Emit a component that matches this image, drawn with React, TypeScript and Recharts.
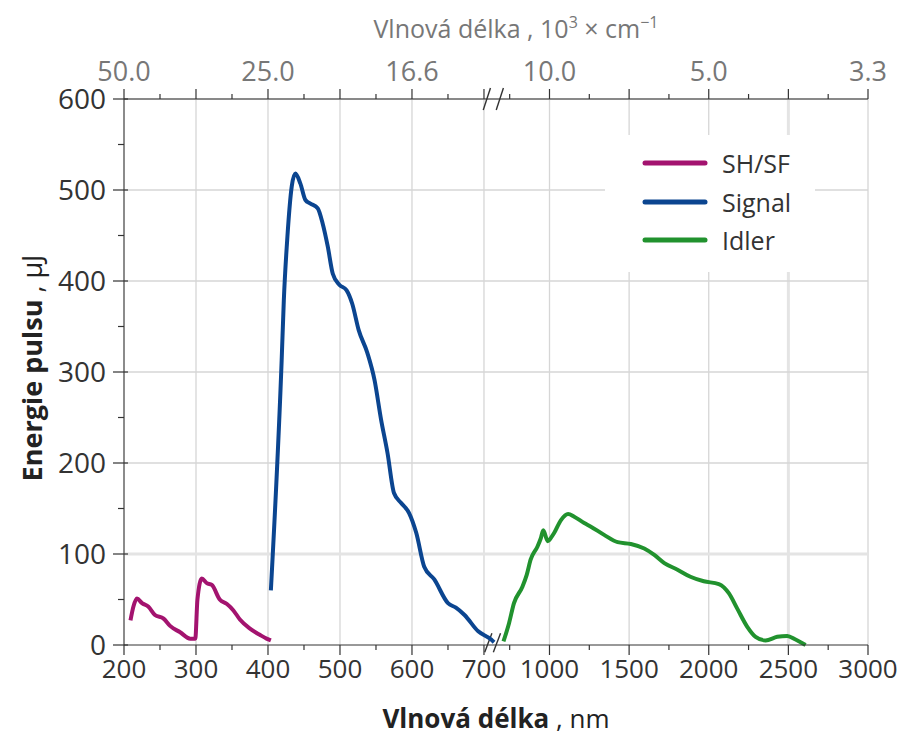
import { LineChart, Line, XAxis, YAxis, ReferenceLine, Legend } from "recharts";

// SH/SF branch (left part of the axis)
const shWavelength = [209, 213, 218, 225, 234, 243, 255, 264, 278, 292, 299, 302, 308, 315, 322, 333, 343, 352, 361, 375, 389, 398, 404];
const shEnergy = [27, 42, 51, 46, 42, 33, 29, 21, 14, 7, 7, 50, 73, 68, 66, 50, 45, 38, 28, 18, 11, 7, 5];

// Signal (left part of the axis)
const signalWavelength = [404, 419, 422, 427, 433, 438, 445, 452, 459, 469, 476, 483, 490, 499, 509, 517, 526, 538, 548, 557, 566, 575, 585, 596, 606, 617, 631, 650, 661, 673, 692, 710, 714];
const signalEnergy = [60, 313, 379, 449, 504, 518, 507, 489, 485, 480, 463, 438, 408, 396, 390, 375, 346, 321, 291, 248, 211, 167, 156, 145, 123, 86, 72, 46, 41, 33, 15, 6, 3];

// Idler (right, compressed part of the axis)
const idlerWavelength = [711, 746, 777, 830, 857, 882, 924, 945, 961, 989, 1010, 1029, 1071, 1117, 1155, 1218, 1260, 1343, 1428, 1511, 1595, 1658, 1721, 1801, 1885, 1969, 2063, 2126, 2179, 2242, 2294, 2357, 2430, 2493, 2545, 2608];
const idlerEnergy = [4, 24, 46, 64, 77, 94, 108, 117, 126, 114, 118, 123, 137, 144, 141, 134, 130, 121, 113, 111, 106, 99, 90, 83, 75, 70, 67, 57, 40, 20, 9, 5, 9, 10, 6, 0];

const seriesNames = ["SH/SF", "Signal", "Idler"];

const leftMajorNm = [200, 300, 400, 500, 600, 700];
const leftMinorNm = [250, 350, 450, 550, 650];
const rightMajorNm = [1000, 1500, 2000, 2500, 3000];
const rightMinorNm = [750, 1250, 1750, 2250, 2750];
const topLabelNm = [200, 400, 600, 1000, 2000, 3000];
const energyMajor = [0, 100, 200, 300, 400, 500, 600];
const energyMinor = [50, 150, 250, 350, 450, 550];

// broken axis: 200-715 nm linear, then compressed from 1000 nm on
const leftPos = (nm: number) => nm;
const rightPos = (nm: number) => 791 + (nm - 1000) * 0.2212;

const shData = shWavelength.map((nm, i) => ({ pos: leftPos(nm), energy: shEnergy[i] }));
const signalData = signalWavelength.map((nm, i) => ({ pos: leftPos(nm), energy: signalEnergy[i] }));
const idlerData = idlerWavelength.map((nm, i) => ({ pos: rightPos(nm), energy: idlerEnergy[i] }));

const bottomLabels = new Map<number, string>();
leftMajorNm.forEach((nm) => bottomLabels.set(leftPos(nm), String(nm)));
rightMajorNm.forEach((nm) => bottomLabels.set(rightPos(nm), String(nm)));

const topLabels = new Map<number, string>();
topLabelNm.forEach((nm) => {
  const pos = nm <= 700 ? leftPos(nm) : rightPos(nm);
  topLabels.set(pos, (Math.floor((1e4 / nm) * 10) / 10).toFixed(1));
});

const majorPos = [...leftMajorNm.map(leftPos), ...rightMajorNm.map(rightPos)];
const xTicks = [
  ...leftMajorNm.map(leftPos),
  ...leftMinorNm.map(leftPos),
  ...rightMinorNm.map(rightPos),
  ...rightMajorNm.map(rightPos),
].sort((a, b) => a - b);
const yTicks = [...energyMajor, ...energyMinor].sort((a, b) => a - b);
const majorSet = new Set(majorPos);

const AXIS = "#333";
const FONT = "'Open Sans', 'Noto Sans', sans-serif";

function BottomTick({ x, y, payload }: any) {
  const major = majorSet.has(payload.value);
  return (
    <g>
      <line x1={x} x2={x} y1={y} y2={y + (major ? 10 : 5)} stroke={AXIS} strokeWidth={1.2} />
      {major && (
        <text x={x} y={y + 33} textAnchor="middle" fill="#333" fontSize={26} fontFamily={FONT}>
          {bottomLabels.get(payload.value)}
        </text>
      )}
    </g>
  );
}

function TopTick({ x, y, payload }: any) {
  const major = majorSet.has(payload.value);
  const label = topLabels.get(payload.value);
  return (
    <g>
      <line x1={x} x2={x} y1={y} y2={y - (major ? 10 : 5)} stroke={AXIS} strokeWidth={1.2} />
      {label && (
        <text x={x} y={y - 18} textAnchor="middle" fill="#777" fontSize={27} fontFamily={FONT}>
          {label}
        </text>
      )}
    </g>
  );
}

function LeftTick({ x, y, payload }: any) {
  const major = payload.value % 100 === 0;
  return (
    <g>
      <line x1={major ? x - 11 : x - 6} x2={major ? x + 4 : x} y1={y} y2={y} stroke={AXIS} strokeWidth={1.2} />
      {major && (
        <text x={x - 18} y={y} dy="0.36em" textAnchor="end" fill="#333" fontSize={28} fontFamily={FONT}>
          {payload.value}
        </text>
      )}
    </g>
  );
}

function BottomTitle({ viewBox }: any) {
  return (
    <text x={viewBox.x + viewBox.width / 2} y={viewBox.y + 83} textAnchor="middle" fill="#222" fontSize={26} fontFamily={FONT}>
      <tspan fontWeight="bold">Vlnová délka</tspan>
      <tspan> , nm</tspan>
    </text>
  );
}

function TopTitle({ viewBox }: any) {
  return (
    <text x={viewBox.x + viewBox.width / 2 + 20} y={38} textAnchor="middle" fill="#777" fontSize={25} fontFamily={FONT}>
      <tspan>Vlnová délka , 10</tspan>
      <tspan fontSize={16} dy={-10}>3</tspan>
      <tspan dy={10}> × cm</tspan>
      <tspan fontSize={16} dy={-10}>−1</tspan>
    </text>
  );
}

function LeftTitle() {
  const cx = 31;
  const cy = 368;
  return (
    <text x={cx} y={cy} transform={`rotate(-90 ${cx} ${cy})`} textAnchor="middle" dominantBaseline="central" fill="#222" fontSize={27} fontFamily={FONT}>
      <tspan fontWeight="bold">Energie pulsu</tspan>
      <tspan> , μJ</tspan>
    </text>
  );
}

function LegendBox({ payload }: any) {
  const items = [...(payload || [])].sort(
    (a: any, b: any) => seriesNames.indexOf(a.value) - seriesNames.indexOf(b.value)
  );
  return (
    <div style={{ background: "#fff", padding: "9px 0 12px 37px" }}>
      {items.map((item: any) => (
        <div key={item.value} style={{ display: "flex", alignItems: "center", height: 38.5 }}>
          <svg width={66} height={8}>
            <line x1={3} x2={63} y1={4} y2={4} stroke={item.color} strokeWidth={5} strokeLinecap="round" />
          </svg>
          <span style={{ marginLeft: 14, fontSize: 25, fontFamily: FONT, color: "#333" }}>{item.value}</span>
        </div>
      ))}
    </div>
  );
}

export default function App() {
  const domainMax = rightPos(3000);
  return (
    <div style={{ position: "absolute", left: 0, top: 0, width: 900, height: 735, background: "#fff" }}>
      <LineChart width={900} height={735} margin={{ top: 0, right: 32, left: 0, bottom: 0 }}>
        <XAxis
          dataKey="pos"
          type="number"
          domain={[200, domainMax]}
          ticks={xTicks}
          interval={0}
          allowDataOverflow
          height={90}
          tickSize={0}
          tickMargin={0}
          tick={<BottomTick />}
          stroke={AXIS}
          label={<BottomTitle />}
        />
        <XAxis
          xAxisId="top"
          orientation="top"
          dataKey="pos"
          type="number"
          domain={[200, domainMax]}
          ticks={xTicks}
          interval={0}
          allowDataOverflow
          height={99}
          tickSize={0}
          tickMargin={0}
          tick={<TopTick />}
          stroke={AXIS}
          label={<TopTitle />}
        />
        <YAxis
          type="number"
          domain={[0, 600]}
          ticks={yTicks}
          interval={0}
          width={124}
          tickSize={0}
          tickMargin={0}
          tick={<LeftTick />}
          stroke={AXIS}
          label={<LeftTitle />}
        />
        {majorPos.map((p) => (
          <ReferenceLine key={`vx${p}`} x={p} stroke={p === rightPos(2500) ? "#e4e4e4" : "#d6d6d6"} strokeWidth={p === rightPos(2500) ? 3 : 1.3} />
        ))}
        {energyMajor.filter((v) => v > 0).map((v) => (
          <ReferenceLine key={`hy${v}`} y={v} stroke={v === 100 ? "#e4e4e4" : "#d6d6d6"} strokeWidth={v === 100 ? 3 : 1.3} />
        ))}
        <ReferenceLine segment={[{ x: 701, y: -8 }, { x: 711, y: 13 }]} ifOverflow="visible" stroke={AXIS} strokeWidth={1.4} />
        <ReferenceLine segment={[{ x: 713, y: -8 }, { x: 723, y: 13 }]} ifOverflow="visible" stroke={AXIS} strokeWidth={1.4} />
        <ReferenceLine segment={[{ x: 699, y: 588 }, { x: 709, y: 612 }]} ifOverflow="visible" stroke={AXIS} strokeWidth={1.4} />
        <ReferenceLine segment={[{ x: 717, y: 588 }, { x: 727, y: 612 }]} ifOverflow="visible" stroke={AXIS} strokeWidth={1.4} />
        <Line data={shData} dataKey="energy" name="SH/SF" type="monotone" stroke="#a3136f" strokeWidth={4} dot={false} isAnimationActive={false} />
        <Line data={signalData} dataKey="energy" name="Signal" type="monotone" stroke="#0b4590" strokeWidth={4} dot={false} isAnimationActive={false} />
        <Line data={idlerData} dataKey="energy" name="Idler" type="monotone" stroke="#21922e" strokeWidth={4} dot={false} isAnimationActive={false} />
        <Legend
          layout="vertical"
          align="center"
          verticalAlign="middle"
          content={<LegendBox />}
          wrapperStyle={{ left: 605, top: 135, width: 210 }}
        />
      </LineChart>
    </div>
  );
}
